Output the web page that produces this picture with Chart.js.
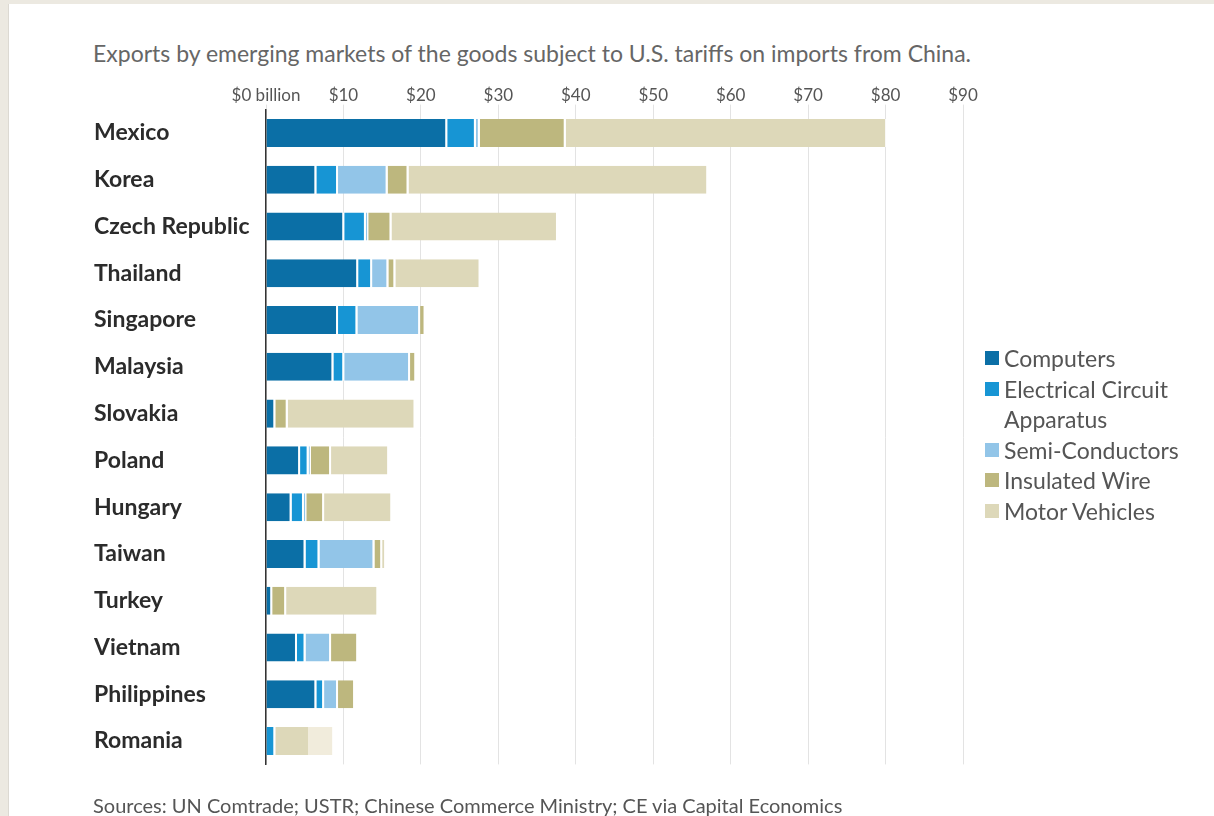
<!DOCTYPE html>
<html>
<head>
    <title>Emerging market exports of tariffed goods</title>
    <style>
        body {
            margin: 0;
            background: #ece9e1;
            font-family: Lato, "Open Sans", sans-serif;
        }

        /* white card sitting on the beige page */
        .card {
            position: absolute;
            left: 8px;
            top: 4px;
            width: 1206px;
            height: 812px;
            background: #fff;
            border-left: 1px solid #dcd9d2;
        }

        .chart-title {
            position: absolute;
            left: 84px;
            top: 36px;
            font-size: 23px;
            line-height: 27px;
            color: #666;
            white-space: nowrap;
        }

        .chart-source {
            position: absolute;
            left: 84px;
            top: 789px;
            font-size: 20px;
            line-height: 24px;
            color: #555;
            white-space: nowrap;
        }

        #chart {
            position: absolute;
            left: 0;
            top: 0;
        }

        #legend {
            position: absolute;
            left: 976px;
            top: 339px;
            font-size: 23px;
            line-height: 30.6px;
            color: #555;
        }

        .legend-item {
            display: flex;
            align-items: flex-start;
        }

        .legend-box {
            width: 14px;
            height: 14px;
            margin-top: 8px;
            margin-right: 5px;
            flex: none;
        }

        .legend-text {
            width: 190px;
        }
    </style>
    <script src="https://cdn.jsdelivr.net/npm/chart.js"></script>
</head>
<body>
    <div class="card">
        <div class="chart-title">Exports by emerging markets of the goods subject to U.S. tariffs on imports from China.</div>
        <canvas id="chart" width="1206" height="812"></canvas>
        <div id="legend"></div>
        <div class="chart-source">Sources: UN Comtrade; USTR; Chinese Commerce Ministry; CE via Capital Economics</div>
    </div>

    <script>
        // Exports in $ billion, one value per country for each product group
        const countries = ['Mexico', 'Korea', 'Czech Republic', 'Thailand', 'Singapore', 'Malaysia', 'Slovakia',
                           'Poland', 'Hungary', 'Taiwan', 'Turkey', 'Vietnam', 'Philippines', 'Romania'];

        const computers         = [23.4, 6.5, 10.1, 11.9, 9.3, 8.7, 1.2, 4.4, 3.3, 5.1, 0.8, 4.0, 6.5, 0];
        const electricalCircuit = [3.7, 2.8, 2.8, 1.8, 2.5, 1.4, 0, 1.1, 1.6, 1.8, 0, 1.1, 1.0, 1.2];
        const semiConductors    = [0.5, 6.4, 0.3, 2.1, 8.1, 8.5, 0, 0.3, 0.3, 7.1, 0, 3.3, 1.8, 0];
        const insulatedWire     = [11.1, 2.7, 3.0, 0.9, 0.7, 0.8, 1.6, 2.6, 2.3, 1.0, 1.8, 3.5, 2.2, 0];
        const motorVehicles     = [41.5, 38.7, 21.5, 11.0, 0, 0, 16.5, 7.5, 8.8, 0.5, 11.9, 0, 0, 7.6];

        // Romania's motor vehicle bar is only partly shaded, up to this value
        const romaniaShadedTo = 5.4;

        const seriesNames = ['Computers', 'Electrical Circuit Apparatus', 'Semi-Conductors', 'Insulated Wire', 'Motor Vehicles'];
        const seriesData = [computers, electricalCircuit, semiConductors, insulatedWire, motorVehicles];

        const tickValues = [0, 10, 20, 30, 40, 50, 60, 70, 80, 90];

        const colours = ['#0b6fa6', '#1795d4', '#92c5e8', '#bdb77e', '#ddd8b9'];
        const paleMotor = '#f1ecdc';

        // motor vehicles colour, with the pale tail on Romania's bar
        function motorColour(ctx) {
            const chart = ctx.chart;
            if (ctx.dataIndex !== countries.indexOf('Romania') || !chart.chartArea) return colours[4];
            const x = chart.scales.x;
            const t = (x.getPixelForValue(romaniaShadedTo) - x.left) / (x.right - x.left);
            const g = chart.ctx.createLinearGradient(x.left, 0, x.right, 0);
            g.addColorStop(0, colours[4]);
            g.addColorStop(t, colours[4]);
            g.addColorStop(t, paleMotor);
            g.addColorStop(1, paleMotor);
            return g;
        }

        const datasets = seriesNames.map((name, i) => ({
            label: name,
            data: seriesData[i],
            backgroundColor: i === 4 ? motorColour : colours[i],
            borderColor: '#fff',
            borderWidth: { right: 2 },
            borderSkipped: false,
            barPercentage: 0.6,
            categoryPercentage: 1
        }));

        const ctx = document.getElementById('chart').getContext('2d');
        const chart = new Chart(ctx, {
            type: 'bar',
            data: { labels: countries, datasets: datasets },
            options: {
                indexAxis: 'y',
                responsive: false,
                animation: false,
                layout: {
                    padding: { left: 85, right: 252, top: 63.6, bottom: 51.6 }
                },
                plugins: {
                    legend: { display: false },
                    tooltip: { enabled: false }
                },
                scales: {
                    x: {
                        position: 'top',
                        stacked: true,
                        min: 0,
                        max: 90,
                        afterBuildTicks: scale => {
                            scale.ticks = tickValues.map(v => ({ value: v }));
                        },
                        afterFit: scale => { scale.height = 42; },
                        ticks: {
                            padding: -1,
                            color: '#555',
                            font: { family: 'Lato', size: 17 },
                            callback: v => v === 0 ? '$0 billion' : '$' + v
                        },
                        grid: { color: '#e3e3e3', lineWidth: 1, tickLength: 5 },
                        border: { display: false }
                    },
                    y: {
                        stacked: true,
                        z: 1,
                        afterFit: scale => { scale.width = 172; },
                        ticks: {
                            crossAlign: 'far',
                            color: '#2b2b2b',
                            font: { family: 'Lato', size: 23, weight: 'bold' }
                        },
                        grid: { display: false },
                        border: { color: '#333', width: 1.5 }
                    }
                }
            }
        });

        // legend built from the datasets
        const legendEl = document.getElementById('legend');
        chart.data.datasets.forEach((ds, i) => {
            const item = document.createElement('div');
            item.className = 'legend-item';
            item.innerHTML = '<span class="legend-box" style="background:' + colours[i] + '"></span>' +
                             '<span class="legend-text">' + ds.label + '</span>';
            legendEl.appendChild(item);
        });
    </script>
</body>
</html>
